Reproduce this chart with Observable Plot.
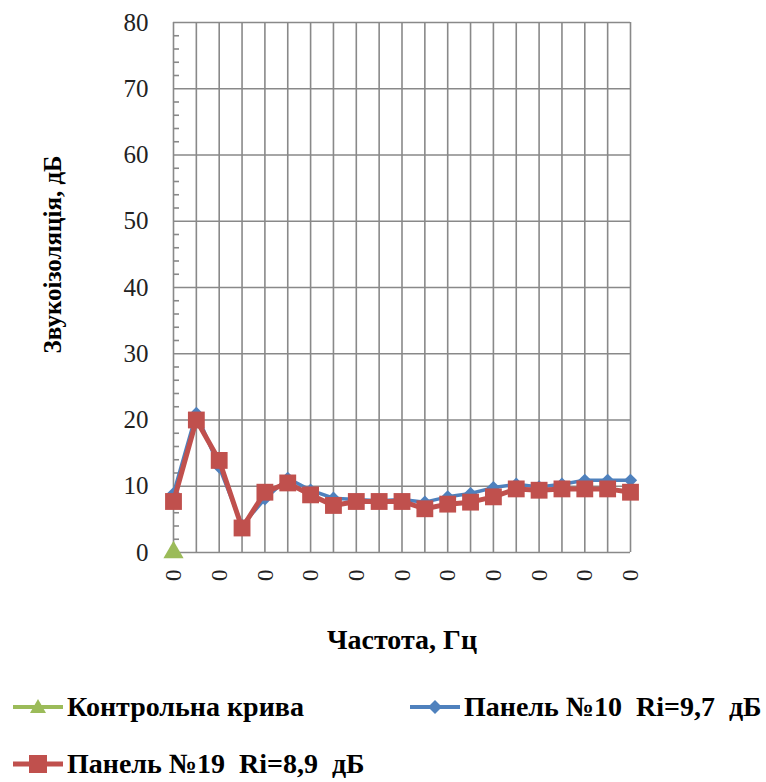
<!DOCTYPE html>
<html>
<head>
<meta charset="utf-8">
<script src="https://cdn.jsdelivr.net/npm/d3@7"></script>
<script src="https://cdn.jsdelivr.net/npm/@observablehq/plot@0.6"></script>
<style>
  html, body { margin: 0; padding: 0; background: #fff; }
  body { width: 766px; height: 782px; overflow: hidden; font-family: "Liberation Serif", "Times New Roman", serif; }
  #chart svg { display: block; }
  .legend { position: relative; height: 112px; font-weight: bold; font-size: 28px; color: #000; font-family: "Liberation Serif", serif; }
  .item { position: absolute; display: flex; align-items: center; white-space: pre; }
  .item svg { display: block; margin-right: 4px; }
</style>
</head>
<body>
<div id="chart"></div>
<div class="legend" id="legend"></div>
<script>
// ---- data ----
const categories = [0, 1, 2, 3, 4, 5, 6, 7, 8, 9, 10, 11, 12, 13, 14, 15, 16, 17, 18, 19, 20];
const xTickPositions = [0, 2, 4, 6, 8, 10, 12, 14, 16, 18, 20];
const xTickLabels = ["0", "0", "0", "0", "0", "0", "0", "0", "0", "0", "0"];
const yTicks = [0, 10, 20, 30, 40, 50, 60, 70, 80];
const yMinorTicks = [2, 4, 6, 8, 12, 14, 16, 18, 22, 24, 26, 28, 32, 34, 36, 38, 42, 44, 46, 48, 52, 54, 56, 58, 62, 64, 66, 68, 72, 74, 76, 78];
const controlCategories = [0];
const controlValues = [0];
const panel10 = [8.9, 21.0, 12.9, 4.1, 8.1, 11.2, 9.4, 8.2, 8.0, 7.8, 8.0, 7.6, 8.4, 8.9, 9.8, 10.3, 9.9, 10.3, 10.9, 10.9, 10.9];
const panel19 = [7.7, 20.0, 13.9, 3.7, 9.1, 10.5, 8.7, 7.1, 7.7, 7.7, 7.7, 6.6, 7.3, 7.6, 8.4, 9.6, 9.4, 9.6, 9.6, 9.6, 9.1];
const yLabel = "Звукоізоляція, дБ";
const xLabel = "Частота, Гц";
const seriesNames = ["Контрольна крива", "Панель №10  Ri=9,7  дБ", "Панель №19  Ri=8,9  дБ"];
const colors = ["#9BBB59", "#4F81BD", "#C0504D"];

const d10 = categories.map((c, i) => ({x: c, y: panel10[i]}));
const d19 = categories.map((c, i) => ({x: c, y: panel19[i]}));
const dCtrl = controlCategories.map((c, i) => ({x: c, y: controlValues[i]}));
const tickLabelOf = new Map(xTickPositions.map((p, i) => [p, xTickLabels[i]]));

const grid = "#898989";
const serif = "'Liberation Serif', 'Times New Roman', serif";
const chart = Plot.plot({
  width: 766,
  height: 670,
  marginLeft: 173,
  marginRight: 136,
  marginTop: 22,
  marginBottom: 118,
  style: {fontFamily: serif, background: "#fff", color: "#000"},
  x: {type: "linear", domain: [categories[0], categories[categories.length - 1]]},
  y: {domain: [0, 80]},
  marks: [
    Plot.ruleX(categories, {stroke: grid, strokeWidth: 1.6}),
    Plot.ruleY(yTicks, {stroke: grid, strokeWidth: 1.6}),
    Plot.axisY(yMinorTicks, {tickSize: 6, dx: 6, text: null, stroke: grid, strokeWidth: 1.6, strokeOpacity: 1, label: null}),
    Plot.axisY(yTicks, {tickSize: 0, tickPadding: 25, fontSize: 25, label: null, fill: "#222"}),
    Plot.axisX(xTickPositions, {tickSize: 0, tickPadding: 17, tickRotate: 90, fontSize: 23, tickFormat: d => tickLabelOf.get(d), label: null, fill: "#222"}),
    Plot.text([yLabel], {frameAnchor: "left", y: [45], dx: -121, rotate: -90, textAnchor: "middle", fontSize: 25, fontWeight: "bold", fill: "#000"}),
    Plot.text([xLabel], {frameAnchor: "bottom", dy: 96, textAnchor: "middle", fontSize: 28, fontWeight: "bold", fill: "#000"}),
    Plot.dot(dCtrl, {x: "x", y: "y", symbol: "triangle", r: 7.5, fill: colors[0], stroke: "none"}),
    Plot.line(d10, {x: "x", y: "y", stroke: colors[1], strokeWidth: 3.5}),
    Plot.dot(d10, {x: "x", y: "y", symbol: "diamond2", r: 6, fill: colors[1], stroke: "none"}),
    Plot.line(d19, {x: "x", y: "y", stroke: colors[2], strokeWidth: 5}),
    Plot.dot(d19, {x: "x", y: "y", symbol: "square", r: 9.5, fill: colors[2], stroke: "none"})
  ]
});
document.getElementById("chart").appendChild(chart);

// ---- legend (HTML below the SVG) ----
const legend = document.getElementById("legend");
const markerSvgs = [
  `<svg width="50" height="24"><line x1="0" y1="12" x2="50" y2="12" stroke="${colors[0]}" stroke-width="4"/><path d="M25,4 L33,18 L17,18 Z" fill="${colors[0]}"/></svg>`,
  `<svg width="50" height="24"><line x1="0" y1="12" x2="50" y2="12" stroke="${colors[1]}" stroke-width="4"/><path d="M25,5 L32,12 L25,19 L18,12 Z" fill="${colors[1]}"/></svg>`,
  `<svg width="50" height="24"><line x1="0" y1="12" x2="50" y2="12" stroke="${colors[2]}" stroke-width="5"/><rect x="16" y="3" width="18" height="18" fill="${colors[2]}"/></svg>`
];
const positions = [[13, 38], [410, 38], [13, 95]];
seriesNames.forEach((name, i) => {
  const div = document.createElement("div");
  div.className = "item";
  div.style.left = positions[i][0] + "px";
  div.style.top = (positions[i][1] - 17) + "px";
  div.innerHTML = markerSvgs[i] + `<span>${name}</span>`;
  legend.appendChild(div);
});
</script>
</body>
</html>
